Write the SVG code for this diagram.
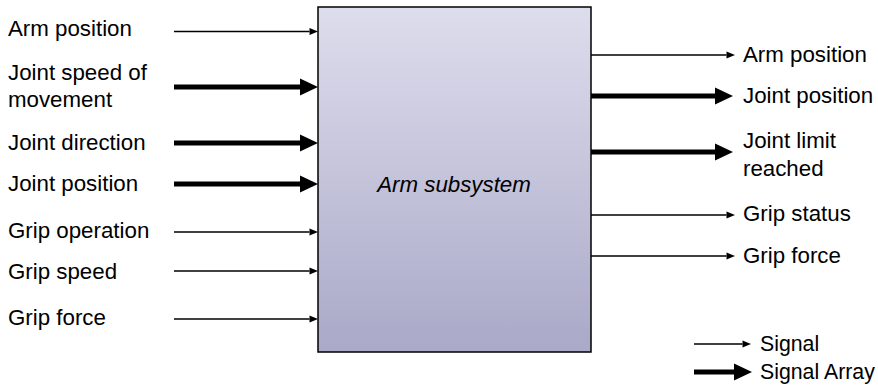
<svg xmlns="http://www.w3.org/2000/svg" width="878" height="385" viewBox="0 0 878 385">
<style>
text{font-family:"Liberation Sans",Arial,sans-serif;font-size:22.3px;fill:#000}
#legend text{font-size:21.3px}
.thin{stroke:#000;stroke-width:1.3;fill:none;marker-end:url(#ah)}
.thick{stroke:#000;stroke-width:5;fill:none;marker-end:url(#AH)}
</style>
<defs>
<linearGradient id="g" x1="0" y1="0" x2="0" y2="1">
<stop offset="0" stop-color="#dedded"/>
<stop offset="1" stop-color="#a9a9c8"/>
</linearGradient>
<marker id="ah" markerUnits="userSpaceOnUse" markerWidth="10" markerHeight="8" refX="0" refY="3.5" orient="auto" overflow="visible">
<path d="M0,0 L8.5,3.5 L0,7 z" fill="#000"/>
</marker>
<marker id="AH" markerUnits="userSpaceOnUse" markerWidth="19" markerHeight="18" refX="0" refY="8.5" orient="auto" overflow="visible">
<path d="M0,0 L18,8.5 L0,17 z" fill="#000"/>
</marker>
</defs>
<g id="arm-subsystem">
<rect x="318" y="7" width="273" height="345" fill="url(#g)" stroke="#000" stroke-width="1.5"/>
<text x="454" y="192" text-anchor="middle" font-style="italic">Arm subsystem</text>
</g>
<g id="inputs">
<text x="8" y="36">Arm position</text>
<text x="8" y="80">Joint speed of</text>
<text x="8" y="107">movement</text>
<text x="8" y="150">Joint direction</text>
<text x="8" y="191">Joint position</text>
<text x="8" y="238">Grip operation</text>
<text x="8" y="279">Grip speed</text>
<text x="8" y="325">Grip force</text>
</g>
<g id="outputs">
<text x="743" y="62">Arm position</text>
<text x="743" y="103">Joint position</text>
<text x="743" y="148">Joint limit</text>
<text x="743" y="176">reached</text>
<text x="743" y="221">Grip status</text>
<text x="743" y="263">Grip force</text>
</g>
<g id="legend">
<text x="760" y="351">Signal</text>
<text x="760" y="379">Signal Array</text>
</g>
<g id="connectors">
<path class="thin" d="M174,31.5 H309.5"/>
<path class="thick" d="M174,87 H300"/>
<path class="thick" d="M174,143 H300"/>
<path class="thick" d="M174,184 H300"/>
<path class="thin" d="M174,232 H309.5"/>
<path class="thin" d="M174,271 H309.5"/>
<path class="thin" d="M174,319 H309.5"/>
<path class="thin" d="M591,55 H726.5"/>
<path class="thick" d="M591,96 H715"/>
<path class="thick" d="M591,152 H715"/>
<path class="thin" d="M591,215 H726.5"/>
<path class="thin" d="M591,256 H726.5"/>
<path class="thin" d="M694,344 H742.5"/>
<path class="thick" d="M694,372 H734"/>
</g>
</svg>
